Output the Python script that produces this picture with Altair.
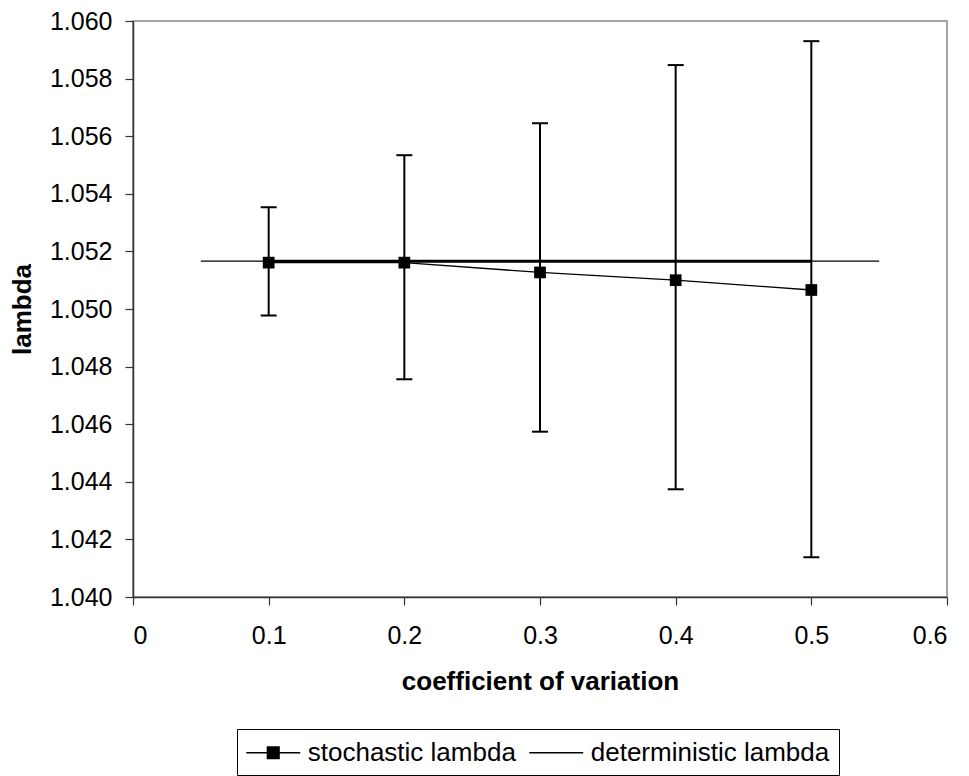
import altair as alt
import pandas as pd

# ---- data ----
cov = [0.1, 0.2, 0.3, 0.4, 0.5]
stoch_mean = [1.05161, 1.05161, 1.05127, 1.05100, 1.05066]
stoch_hi = [1.05353, 1.05534, 1.05645, 1.05847, 1.05930]
stoch_lo = [1.04977, 1.04756, 1.04574, 1.04374, 1.04138]
det_value = 1.05166
det_ext_x = [0.05, 0.55]
series_names = ["stochastic lambda", "deterministic lambda"]

x_ticks = [0, 0.1, 0.2, 0.3, 0.4, 0.5, 0.6]
y_ticks = [1.040, 1.042, 1.044, 1.046, 1.048, 1.050, 1.052, 1.054, 1.056, 1.058, 1.060]

FONT = "Liberation Sans"

stoch = pd.DataFrame({"cov": cov, "lam": stoch_mean, "lo": stoch_lo, "hi": stoch_hi,
                      "series": series_names[0]})
det_thick = pd.DataFrame({"cov": cov, "lam": [det_value] * len(cov), "series": series_names[1]})
det_thin = pd.DataFrame({"cov": det_ext_x, "lam": [det_value] * len(det_ext_x),
                         "series": series_names[1]})
legend_df = pd.concat([stoch[["cov", "lam", "series"]], det_thin], ignore_index=True)

xs = alt.Scale(domain=[0, 0.6], nice=False, zero=False)
ys = alt.Scale(domain=[1.040, 1.060], nice=False, zero=False)

X = alt.X("cov:Q", scale=xs,
          axis=alt.Axis(values=x_ticks, format="~g", title="coefficient of variation",
                        labelPadding=18, titlePadding=20))
Y = alt.Y("lam:Q", scale=ys,
          axis=alt.Axis(values=y_ticks, format=".3f", title="lambda",
                        labelPadding=13, titlePadding=14))

thin = alt.Chart(det_thin).mark_line(color="black", strokeWidth=1.2).encode(x=X, y=Y)
thick = alt.Chart(det_thick).mark_line(color="black", strokeWidth=3).encode(x=X, y=Y)

err = alt.Chart(stoch).mark_rule(color="black", strokeWidth=2).encode(
    x=X, y=alt.Y("lo:Q", scale=ys), y2="hi:Q")
cap_hi = alt.Chart(stoch).mark_tick(color="black", orient="horizontal", size=16,
                                   thickness=2, opacity=1).encode(x=X, y=alt.Y("hi:Q", scale=ys))
cap_lo = alt.Chart(stoch).mark_tick(color="black", orient="horizontal", size=16,
                                   thickness=2, opacity=1).encode(x=X, y=alt.Y("lo:Q", scale=ys))

sline = alt.Chart(stoch).mark_line(color="black", strokeWidth=1.3).encode(x=X, y=Y)
squares = alt.Chart(stoch).mark_square(color="black", size=137, opacity=1).encode(x=X, y=Y)

path_stoch = "M-2,0H2M-0.43,-0.43H0.43V0.43H-0.43Z"
path_det = "M-2,0H2"

leg = alt.Legend(orient="none", legendX=104, legendY=708, direction="horizontal", columns=2,
                 title=None, strokeColor="black", padding=9, symbolSize=729,
                 symbolOffset=12.75, labelOffset=20, columnPadding=10,
                 symbolStrokeWidth=1.5, symbolOpacity=1,
                 labelFont=FONT, labelFontSize=26, labelColor="black", labelLimit=400)

legend_layer = alt.Chart(legend_df).mark_point(opacity=0).encode(
    x=X, y=Y,
    shape=alt.Shape("series:N", scale=alt.Scale(domain=series_names, range=[path_stoch, path_det]),
                    legend=leg),
    fill=alt.Fill("series:N", scale=alt.Scale(domain=series_names, range=["black", "black"]),
                  legend=leg),
    stroke=alt.Stroke("series:N", scale=alt.Scale(domain=series_names, range=["black", "black"]),
                      legend=leg),
)

chart = alt.layer(thin, thick, err, cap_hi, cap_lo, sline, squares, legend_layer).properties(
    width=814, height=576,
    autosize=alt.AutoSizeParams(type="none"),
    padding={"left": 133, "top": 21, "right": 22, "bottom": 179},
    background="white",
).configure_view(stroke="#888888", strokeWidth=1.5).configure_axis(
    grid=False, domainColor="#333333", domainWidth=1.5, tickColor="#333333", tickSize=8,
    tickWidth=1.2, labelFont=FONT, labelFontSize=25, labelColor="black",
    titleFont=FONT, titleFontSize=26, titleFontWeight="bold", titleColor="black",
)

chart.save("out.html", embed_options={"renderer": "svg", "actions": False})
